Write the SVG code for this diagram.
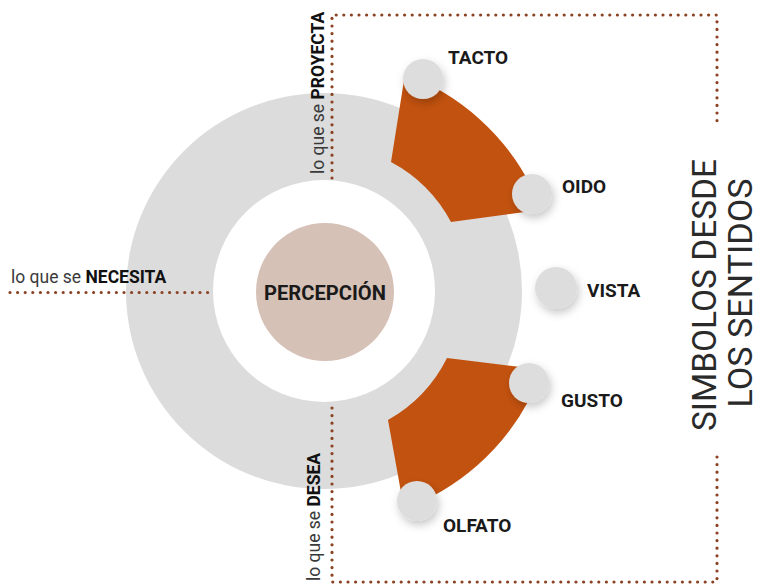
<svg xmlns="http://www.w3.org/2000/svg" width="762" height="588" viewBox="0 0 762 588">
<style>
.dots{fill:none;stroke:#8a4222;stroke-width:3.2;stroke-linecap:round;stroke-dasharray:0 7.6}
.sense{fill:#dddddd;filter:url(#sh)}
.lbl{font-family:Roboto,"Liberation Sans",sans-serif;font-weight:700;font-size:19px;fill:#1a1a1a}
.side{font-family:Roboto,"Liberation Sans",sans-serif;font-size:17.5px;fill:#3a3a3a}
.side tspan.b{font-weight:700;fill:#111}
.sect{fill:#c2520f}
.title{font-family:Roboto,"Liberation Sans",sans-serif;font-weight:400;font-size:33px;fill:#2a2a2a}
</style>
<defs>
<filter id="sh" x="-50%" y="-50%" width="200%" height="200%">
<feDropShadow dx="2" dy="4" stdDeviation="4" flood-color="#000" flood-opacity="0.22"/>
</filter>
</defs>
<rect width="762" height="588" fill="#fff"/>
<g id="ring">
<circle cx="324" cy="291" r="198" fill="#dcdcdc"/>
<circle cx="324" cy="291" r="111" fill="#fff"/>
</g>
<g id="sector-top"><path class="sect" d="M391,162 A146 146 0 0 1 451,222 L532,211 L532,188 A232 232 0 0 0 405,74 Z"/></g>
<g id="sector-bottom"><path class="sect" d="M388,420 A146 146 0 0 0 447,358 L529,368 L529,400 A232 232 0 0 1 404,509 Z"/></g>
<g id="connectors">
<path class="dots" d="M332,178 V15 H717 V124"/>
<path class="dots" d="M717,457 V582 H332 V405"/>
<path class="dots" d="M10,292.5 H212"/>
</g>
<g id="percepcion">
<circle cx="325" cy="292" r="69" fill="#d6c1b7"/>
<text x="325" y="300" text-anchor="middle" font-family="Roboto,'Liberation Sans',sans-serif" font-weight="700" font-size="20" fill="#1a1a1a" textLength="122" lengthAdjust="spacingAndGlyphs">PERCEPCIÓN</text>
</g>
<g id="tacto"><circle class="sense" cx="423" cy="79" r="20"/><text class="lbl" x="448" y="64">TACTO</text></g>
<g id="oido"><circle class="sense" cx="532" cy="194" r="20"/><text class="lbl" x="562" y="193">OIDO</text></g>
<g id="vista"><circle class="sense" cx="556" cy="288" r="21"/><text class="lbl" x="587" y="297">VISTA</text></g>
<g id="gusto"><circle class="sense" cx="529" cy="383" r="20"/><text class="lbl" x="561" y="407">GUSTO</text></g>
<g id="olfato"><circle class="sense" cx="417" cy="501" r="20"/><text class="lbl" x="443" y="532">OLFATO</text></g>
<g id="proyecta"><text class="side" transform="translate(324,174) rotate(-90)">lo que se <tspan class="b">PROYECTA</tspan></text></g>
<g id="desea"><text class="side" transform="translate(320,581) rotate(-90)">lo que se <tspan class="b">DESEA</tspan></text></g>
<g id="necesita"><text class="side" x="11" y="283">lo que se <tspan class="b">NECESITA</tspan></text></g>
<g id="titulo">
<text class="title" text-anchor="middle" transform="translate(716,295) rotate(-90)" textLength="272" lengthAdjust="spacingAndGlyphs">SIMBOLOS DESDE</text>
<text class="title" text-anchor="middle" transform="translate(752,293) rotate(-90)" textLength="229" lengthAdjust="spacingAndGlyphs">LOS SENTIDOS</text>
</g>
</svg>
